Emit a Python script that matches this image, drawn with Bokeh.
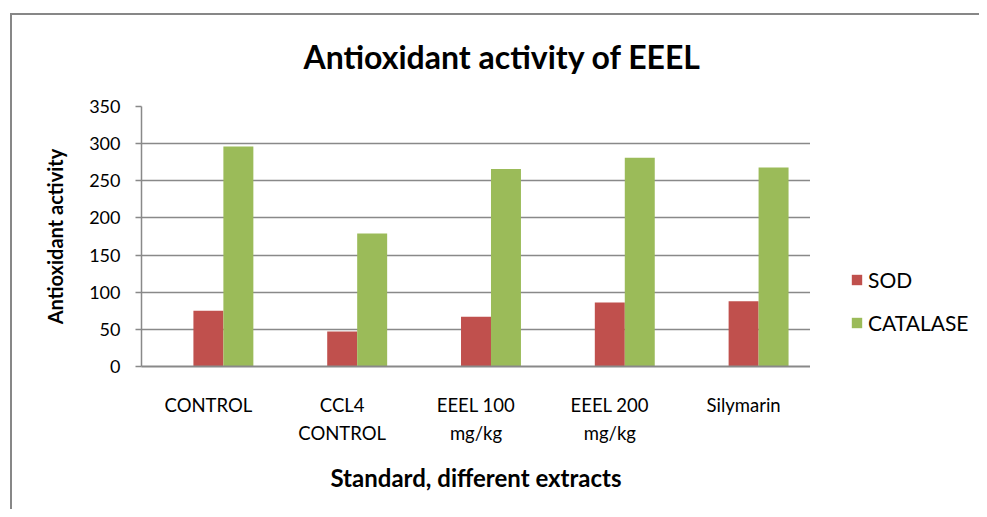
from bokeh.plotting import figure
from bokeh.models import (FactorRange, Legend, LegendItem, SingleIntervalTicker, ColumnDataSource,
                          Range1d, Title)
from bokeh.layouts import row
from bokeh.transform import dodge
from bokeh.embed import file_html
from bokeh.resources import INLINE

categories = ["CONTROL", "CCL4\nCONTROL", "EEEL 100\nmg/kg", "EEEL 200\nmg/kg", "Silymarin"]
sod = [75, 47, 67, 86, 88]
catalase = [296, 179, 266, 281, 268]
series_names = ["SOD", "CATALASE"]
colors = ["#C0504D", "#9BBB59"]
y_ticks_step = 50
y_max = 350
chart_title = "Antioxidant activity of EEEL"
y_title = "Antioxidant activity"
x_title = "Standard, different extracts"

src = ColumnDataSource(dict(cat=categories, sod=sod, catalase=catalase))

FONT = "Lato"
GRAY = "#898989"
BORDER = "#878787"

MAIN_W, LEG_W, FIG_H = 810, 169, 509

p = figure(
    x_range=FactorRange(*categories, range_padding=0, factor_padding=0),
    y_range=(0, y_max),
    width=MAIN_W, height=FIG_H,
    min_border_left=141, min_border_top=106, min_border_right=0, min_border_bottom=143,
    output_backend="svg", toolbar_location=None,
)

bw = 0.224
r1 = p.vbar(x=dodge("cat", 0.0, range=p.x_range), top="sod", width=bw, source=src,
            fill_color=colors[0], line_color=None)
r2 = p.vbar(x=dodge("cat", bw, range=p.x_range), top="catalase", width=bw, source=src,
            fill_color=colors[1], line_color=None)

p.outline_line_color = None
p.background_fill_color = "white"
p.border_fill_alpha = 0

title = Title(text=chart_title, text_font=FONT, text_font_size="32px", text_font_style="bold",
              text_color="black", align="left", offset=162, standoff=62)
p.add_layout(title, "above")

p.xgrid.grid_line_color = None
p.ygrid.grid_line_color = GRAY
p.ygrid.grid_line_width = 1.5
p.yaxis.ticker = SingleIntervalTicker(interval=y_ticks_step)
p.yaxis.minor_tick_line_color = None
p.yaxis.major_tick_out = 6
p.yaxis.major_tick_in = 0
p.yaxis.major_tick_line_color = GRAY
p.yaxis.major_tick_line_width = 1.5
p.yaxis.axis_line_color = GRAY
p.yaxis.axis_line_width = 1.5
p.yaxis.major_label_standoff = 15
p.yaxis.major_label_text_font = FONT
p.yaxis.major_label_text_font_size = "18px"
p.yaxis.major_label_text_color = "black"
p.yaxis.axis_label = y_title
p.yaxis.axis_label_text_font = FONT
p.yaxis.axis_label_text_font_size = "20px"
p.yaxis.axis_label_text_font_style = "bold"
p.yaxis.axis_label_text_color = "black"
p.yaxis.axis_label_standoff = 19

p.xaxis.major_tick_line_color = None
p.xaxis.minor_tick_line_color = None
p.xaxis.axis_line_color = GRAY
p.xaxis.axis_line_width = 2
p.xaxis.major_label_standoff = 21
p.xaxis.major_label_text_font = FONT
p.xaxis.major_label_text_font_size = "18.5px"
p.xaxis.major_label_text_line_height = 1.3
p.xaxis.major_label_text_color = "black"
p.xaxis.axis_label = x_title
p.xaxis.axis_label_text_font = FONT
p.xaxis.axis_label_text_font_size = "24px"
p.xaxis.axis_label_text_font_style = "bold"
p.xaxis.axis_label_text_color = "black"
p.xaxis.axis_label_standoff = 16

# Legend canvas to the right of the plot area
lg = figure(width=LEG_W, height=FIG_H, x_range=Range1d(0, 1), y_range=Range1d(0, 1),
            min_border=0, x_axis_type=None, y_axis_type=None,
            output_backend="svg", toolbar_location=None)
lg.outline_line_color = None
lg.background_fill_alpha = 0
lg.border_fill_alpha = 0
lg.xgrid.grid_line_color = None
lg.ygrid.grid_line_color = None
k1 = lg.vbar(x="sod", top="sod", width=0.1, source=src, fill_color=colors[0], line_color=None,
             visible=False)
k2 = lg.vbar(x="catalase", top="catalase", width=0.1, source=src, fill_color=colors[1],
             line_color=None, visible=False)

legend = Legend(items=[LegendItem(label=series_names[0], renderers=[k1]),
                       LegendItem(label=series_names[1], renderers=[k2])],
                location=(40, 31))
legend.padding = 0
legend.margin = 0
legend.border_line_color = None
legend.background_fill_alpha = 0
legend.inactive_fill_alpha = 0
legend.glyph_width = 13
legend.glyph_height = 13
legend.label_height = 22
legend.spacing = 18
legend.label_standoff = 5
legend.label_text_font = FONT
legend.label_text_font_size = "21px"
legend.label_text_color = "black"
lg.add_layout(legend, "center")

chart = row(p, lg, styles={
    "box-shadow": ("inset 10px 0 0 0 #ffffff, inset 0 13px 0 0 #ffffff, "
                   f"inset 12px 0 0 0 {BORDER}, inset 0 15px 0 0 {BORDER}"),
    "background-color": "#ffffff",
})

open("out.html", "w").write(file_html(chart, INLINE))
